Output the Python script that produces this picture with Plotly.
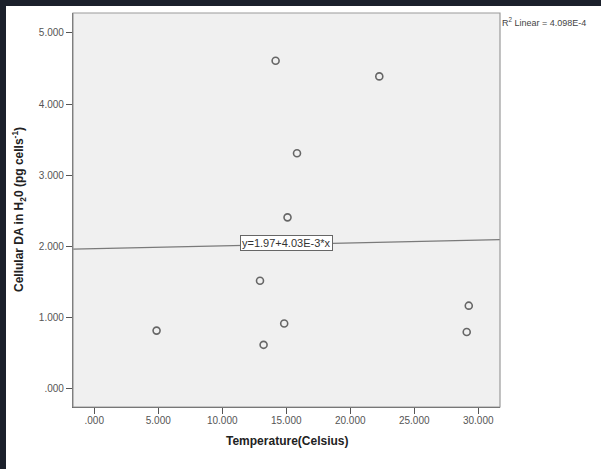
import plotly.graph_objects as go

# Temperature (°C) and cellular DA in H2O (pg cells^-1)
temperature = [4.87, 14.17, 22.27, 15.84, 15.10, 12.95, 14.84, 13.23, 29.26, 29.10]
cellular_da = [0.82, 4.61, 4.39, 3.31, 2.41, 1.52, 0.92, 0.62, 1.17, 0.80]

# Linear fit reported by the analysis
fit_intercept = 1.97
fit_slope = 4.03e-3
fit_label = "y=1.97+4.03E-3*x"
r2_label = "R<sup>2</sup> Linear = 4.098E-4"

x_range = [-1.66, 31.7]
y_range = [-0.253, 5.28]

x_tickvals = [0, 5, 10, 15, 20, 25, 30]
x_ticktext = [".000", "5.000", "10.000", "15.000", "20.000", "25.000", "30.000"]
y_tickvals = [0, 1, 2, 3, 4, 5]
y_ticktext = [".000", "1.000", "2.000", "3.000", "4.000", "5.000"]

FONT = "Liberation Sans, Arial, sans-serif"
W, H = 601, 469
ML, MR, MT, MB = 73, 101, 13, 62
PW, PH = W - ML - MR, H - MT - MB


def px_x(p):
    return (p - ML) / PW


def px_y(p):
    return (H - MB - p) / PH


fig = go.Figure()

fit_x = [x_range[0], x_range[1]]
fit_y = [fit_intercept + fit_slope * v for v in fit_x]
fig.add_trace(go.Scatter(
    x=fit_x, y=fit_y, mode="lines",
    line=dict(color="#7a7a7a", width=1.3),
    hoverinfo="skip", showlegend=False,
))

fig.add_trace(go.Scatter(
    x=temperature, y=cellular_da, mode="markers",
    marker=dict(symbol="circle-open", size=7, color="#666666",
                line=dict(width=1.6, color="#666666")),
    showlegend=False,
))

mid_x = 15.03
fig.add_annotation(
    x=mid_x, y=fit_intercept + fit_slope * mid_x + 0.015,
    xref="x", yref="y", text=fit_label, showarrow=False,
    font=dict(family=FONT, size=11, color="#333333"),
    bgcolor="#ffffff", bordercolor="#666666", borderwidth=1, borderpad=1,
)

fig.add_annotation(
    x=px_x(500), y=px_y(22), xref="paper", yref="paper",
    xanchor="left", yanchor="middle", text=r2_label, showarrow=False,
    font=dict(family=FONT, size=9, color="#444444"),
)

fig.add_annotation(
    x=px_x(19), y=0.5, xref="paper", yref="paper",
    xanchor="center", yanchor="middle", textangle=-90,
    text="<b>Cellular DA in H<sub>2</sub>0 (pg cells<sup>-1</sup>)</b>",
    showarrow=False, font=dict(family=FONT, size=12, color="#222222"),
)

fig.add_annotation(
    x=0.5, y=px_y(441), xref="paper", yref="paper",
    xanchor="center", yanchor="middle",
    text="<b>Temperature(Celsius)</b>",
    showarrow=False, font=dict(family=FONT, size=12, color="#222222"),
)

# white page inset from the dark top and left edges, then the plot background
dark = "#1b202b"
fig.add_shape(type="rect", xref="paper", yref="paper",
              x0=px_x(6), x1=px_x(W + 2), y0=px_y(H + 2), y1=px_y(6),
              fillcolor="#ffffff", line=dict(width=0), layer="below")
fig.add_shape(type="rect", xref="paper", yref="paper", x0=0, x1=1, y0=0, y1=1,
              fillcolor="#f0f0f0", line=dict(width=0), layer="below")

# frame around the plotting area
fig.add_shape(type="rect", xref="paper", yref="paper", x0=0, x1=1, y0=0, y1=1,
              line=dict(color="#9a9a9a", width=1.2), layer="above")

axis_common = dict(
    showgrid=False, zeroline=False, showline=True, linecolor="#555555",
    linewidth=1.2, ticks="outside", ticklen=6, tickwidth=1.2,
    tickcolor="#555555", tickfont=dict(family=FONT, size=10, color="#555555"),
)

fig.update_xaxes(range=x_range, tickmode="array", tickvals=x_tickvals,
                 ticktext=x_ticktext, ticklabelstandoff=-2, **axis_common)
fig.update_yaxes(range=y_range, tickmode="array", tickvals=y_tickvals,
                 ticktext=y_ticktext, **axis_common)

fig.update_layout(
    width=W, height=H,
    margin=dict(l=ML, r=MR, t=MT, b=MB),
    paper_bgcolor=dark, plot_bgcolor="#f0f0f0",
    font=dict(family=FONT),
)

fig.write_html("out.html")
